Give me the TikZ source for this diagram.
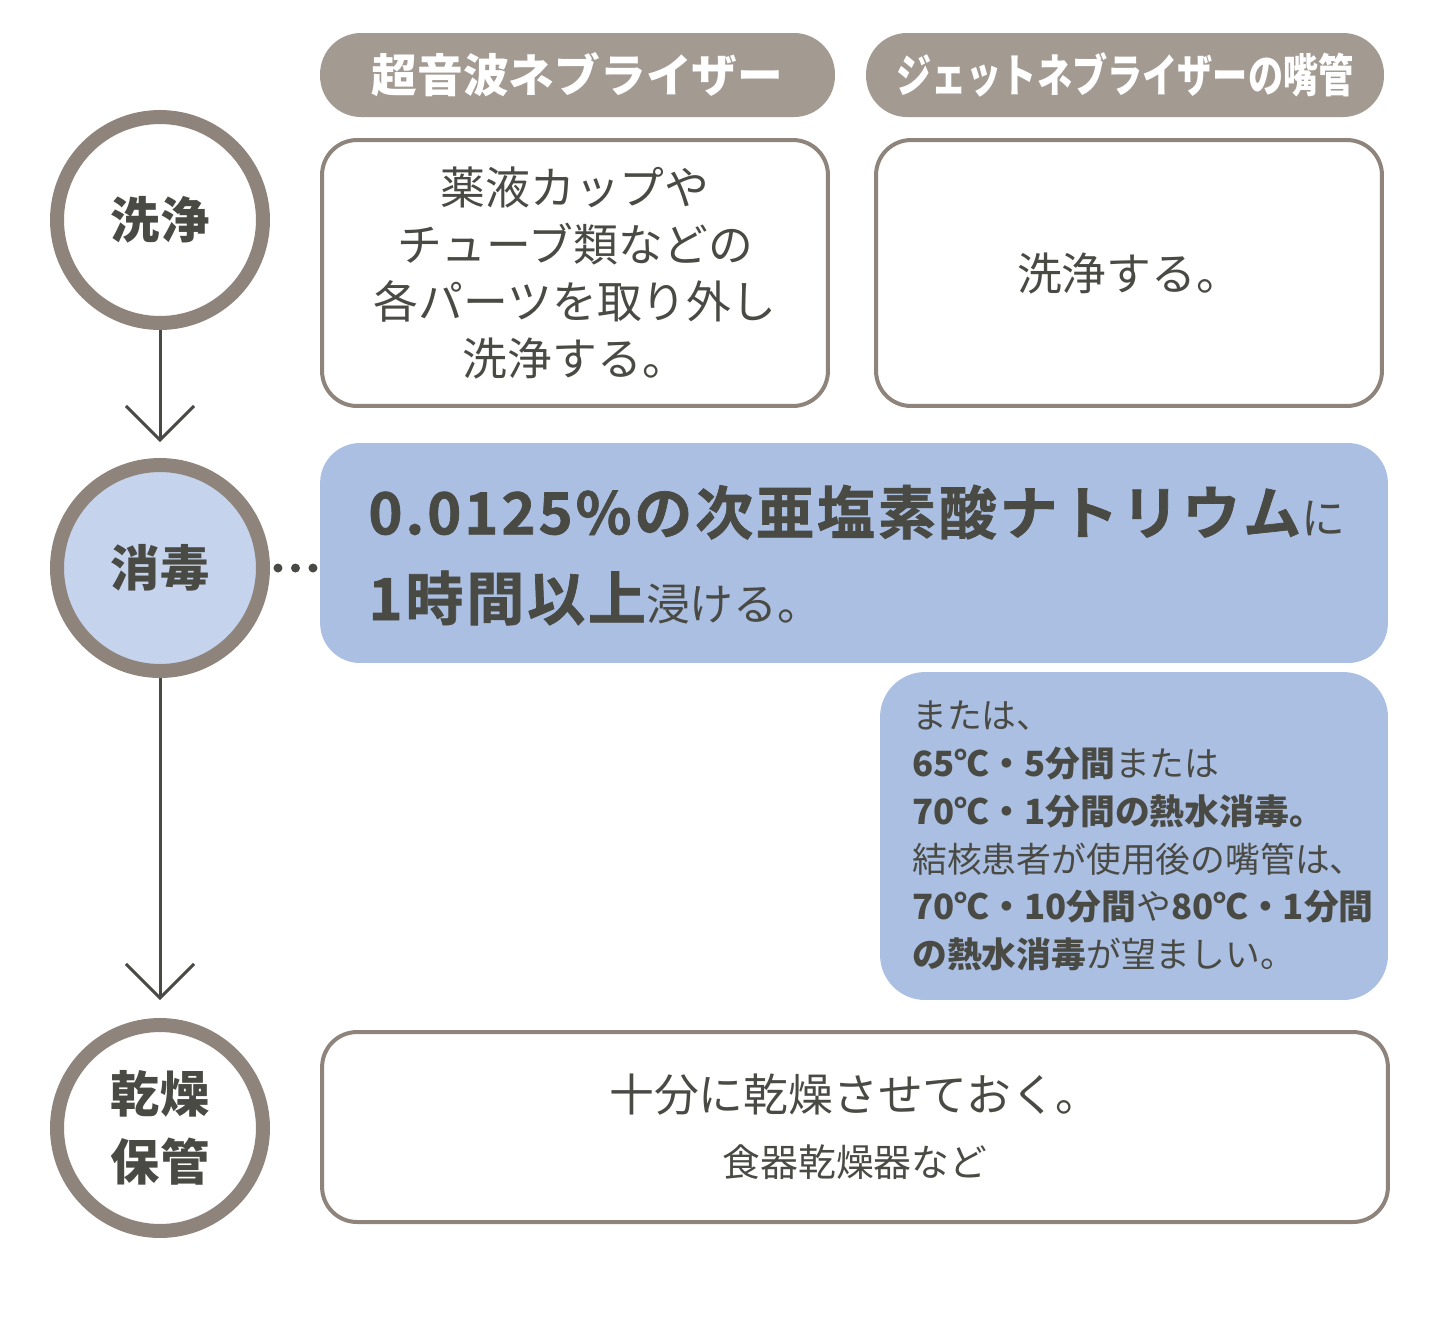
\documentclass[tikz,border=0pt]{standalone}
\usepackage{fontspec}
\setmainfont{Noto Sans CJK JP}
\newfontfamily\jpheavy{Noto Sans CJK JP Bold}[FakeBold=1.2, LetterSpace=5]
\usepackage{graphicx}
\usetikzlibrary{arrows.meta,positioning}
\definecolor{ringgray}{RGB}{142,132,124}
\definecolor{pillgray}{RGB}{163,154,146}
\definecolor{inkgray}{RGB}{74,74,68}
\definecolor{dblue}{RGB}{170,191,226}
\definecolor{lblue}{RGB}{197,211,236}
\tikzset{
  stepc/.style={circle, draw=ringgray, line width=0.28cm, fill=white, minimum size=4.12cm,
                inner sep=0pt, align=center, text=inkgray, font=\fontsize{28pt}{38.5pt}\selectfont\bfseries},
  hdr/.style={fill=pillgray, rounded corners=0.82cm, minimum height=1.68cm, text=white,
              font=\fontsize{26pt}{30pt}\selectfont\bfseries},
  card/.style={draw=ringgray, line width=0.08cm, fill=white, rounded corners=0.7cm, align=center,
               text=inkgray, font=\fontsize{25.5pt}{32.3pt}\selectfont},
  bluecard/.style={fill=dblue, rounded corners=0.8cm},
  btxt/.style={anchor=west, inner sep=0pt, align=left, text=inkgray},
  flow/.style={-{Straight Barb[length=0.68cm,width=1.36cm]}, inkgray, line width=0.06cm},
  dotlink/.style={inkgray, line width=0.18cm, line cap=round, dash pattern=on 0pt off 0.35cm},
}

\begin{document}
\begin{tikzpicture}[x=0.02cm, y=-0.02cm]
  \useasboundingbox (0,0) rectangle (1440,1330);
  % steps on the left
  \node[stepc] (clean) at (160,220) {洗浄};
  \node[stepc, fill=lblue] (disinf) at (160,568) {消毒};
  \node[stepc] (dry) at (160,1128) {乾燥\\保管};
  \draw[flow, shorten >=0.32cm] (clean) -- (disinf);
  \draw[flow, shorten >=0.36cm] (disinf) -- (dry);

  % column heads
  \node[hdr, minimum width=10.3cm] (hdrus) at (577.5,75) {超音波ネブライザー};
  \node[hdr, minimum width=10.36cm] (hdrjet) at (1125,75) {\scalebox{0.77}[1]{ジェットネブライザーの嘴管}};

  % cleaning
  \node[card, minimum width=10.12cm, minimum height=5.32cm] (usbox) at (575,273)
    {薬液カップや\\チューブ類などの\\各パーツを取り外し\\洗浄する。};
  \node[card, minimum width=10.12cm, minimum height=5.32cm] (jetbox) at (1129,273) {洗浄する。};

  % disinfection
  \node[bluecard, minimum width=21.36cm, minimum height=4.4cm] (dtl) at (854,553) {};
  \node[btxt, font=\fontsize{33pt}{48.8pt}\selectfont\jpheavy] (dtltxt) at (368,555)
    {0.0125\%の次亜塩素酸ナトリウム{\normalfont\fontsize{25pt}{48.8pt}\selectfont に}\\
     1時間以上{\normalfont\fontsize{25pt}{48.8pt}\selectfont 浸ける。}};
  \draw[dotlink, shorten <=0.16cm, shorten >=0.12cm] (disinf.east) -- (disinf.east -| dtl.west);

  \node[bluecard, rounded corners=0.9cm, minimum width=10.16cm, minimum height=6.56cm] (alt) at (1134,836) {};
  \node[btxt, font=\fontsize{19.8pt}{27.2pt}\selectfont] (alttxt) at (912,836)
    {または、\\
     \textbf{65℃・5分間}または\\
     \textbf{70℃・1分間の熱水消毒。}\\
     結核患者が使用後の嘴管は、\\
     \textbf{70℃・10分間}や\textbf{80℃・1分間}\\
     \textbf{の熱水消毒}が望ましい。};

  % drying
  \node[card, minimum width=21.32cm, minimum height=3.8cm] (drybox) at (855,1127)
    {十分に乾燥させておく。\\[4.6pt]{\fontsize{21.5pt}{26pt}\selectfont 食器乾燥器など}};
\end{tikzpicture}
\end{document}
